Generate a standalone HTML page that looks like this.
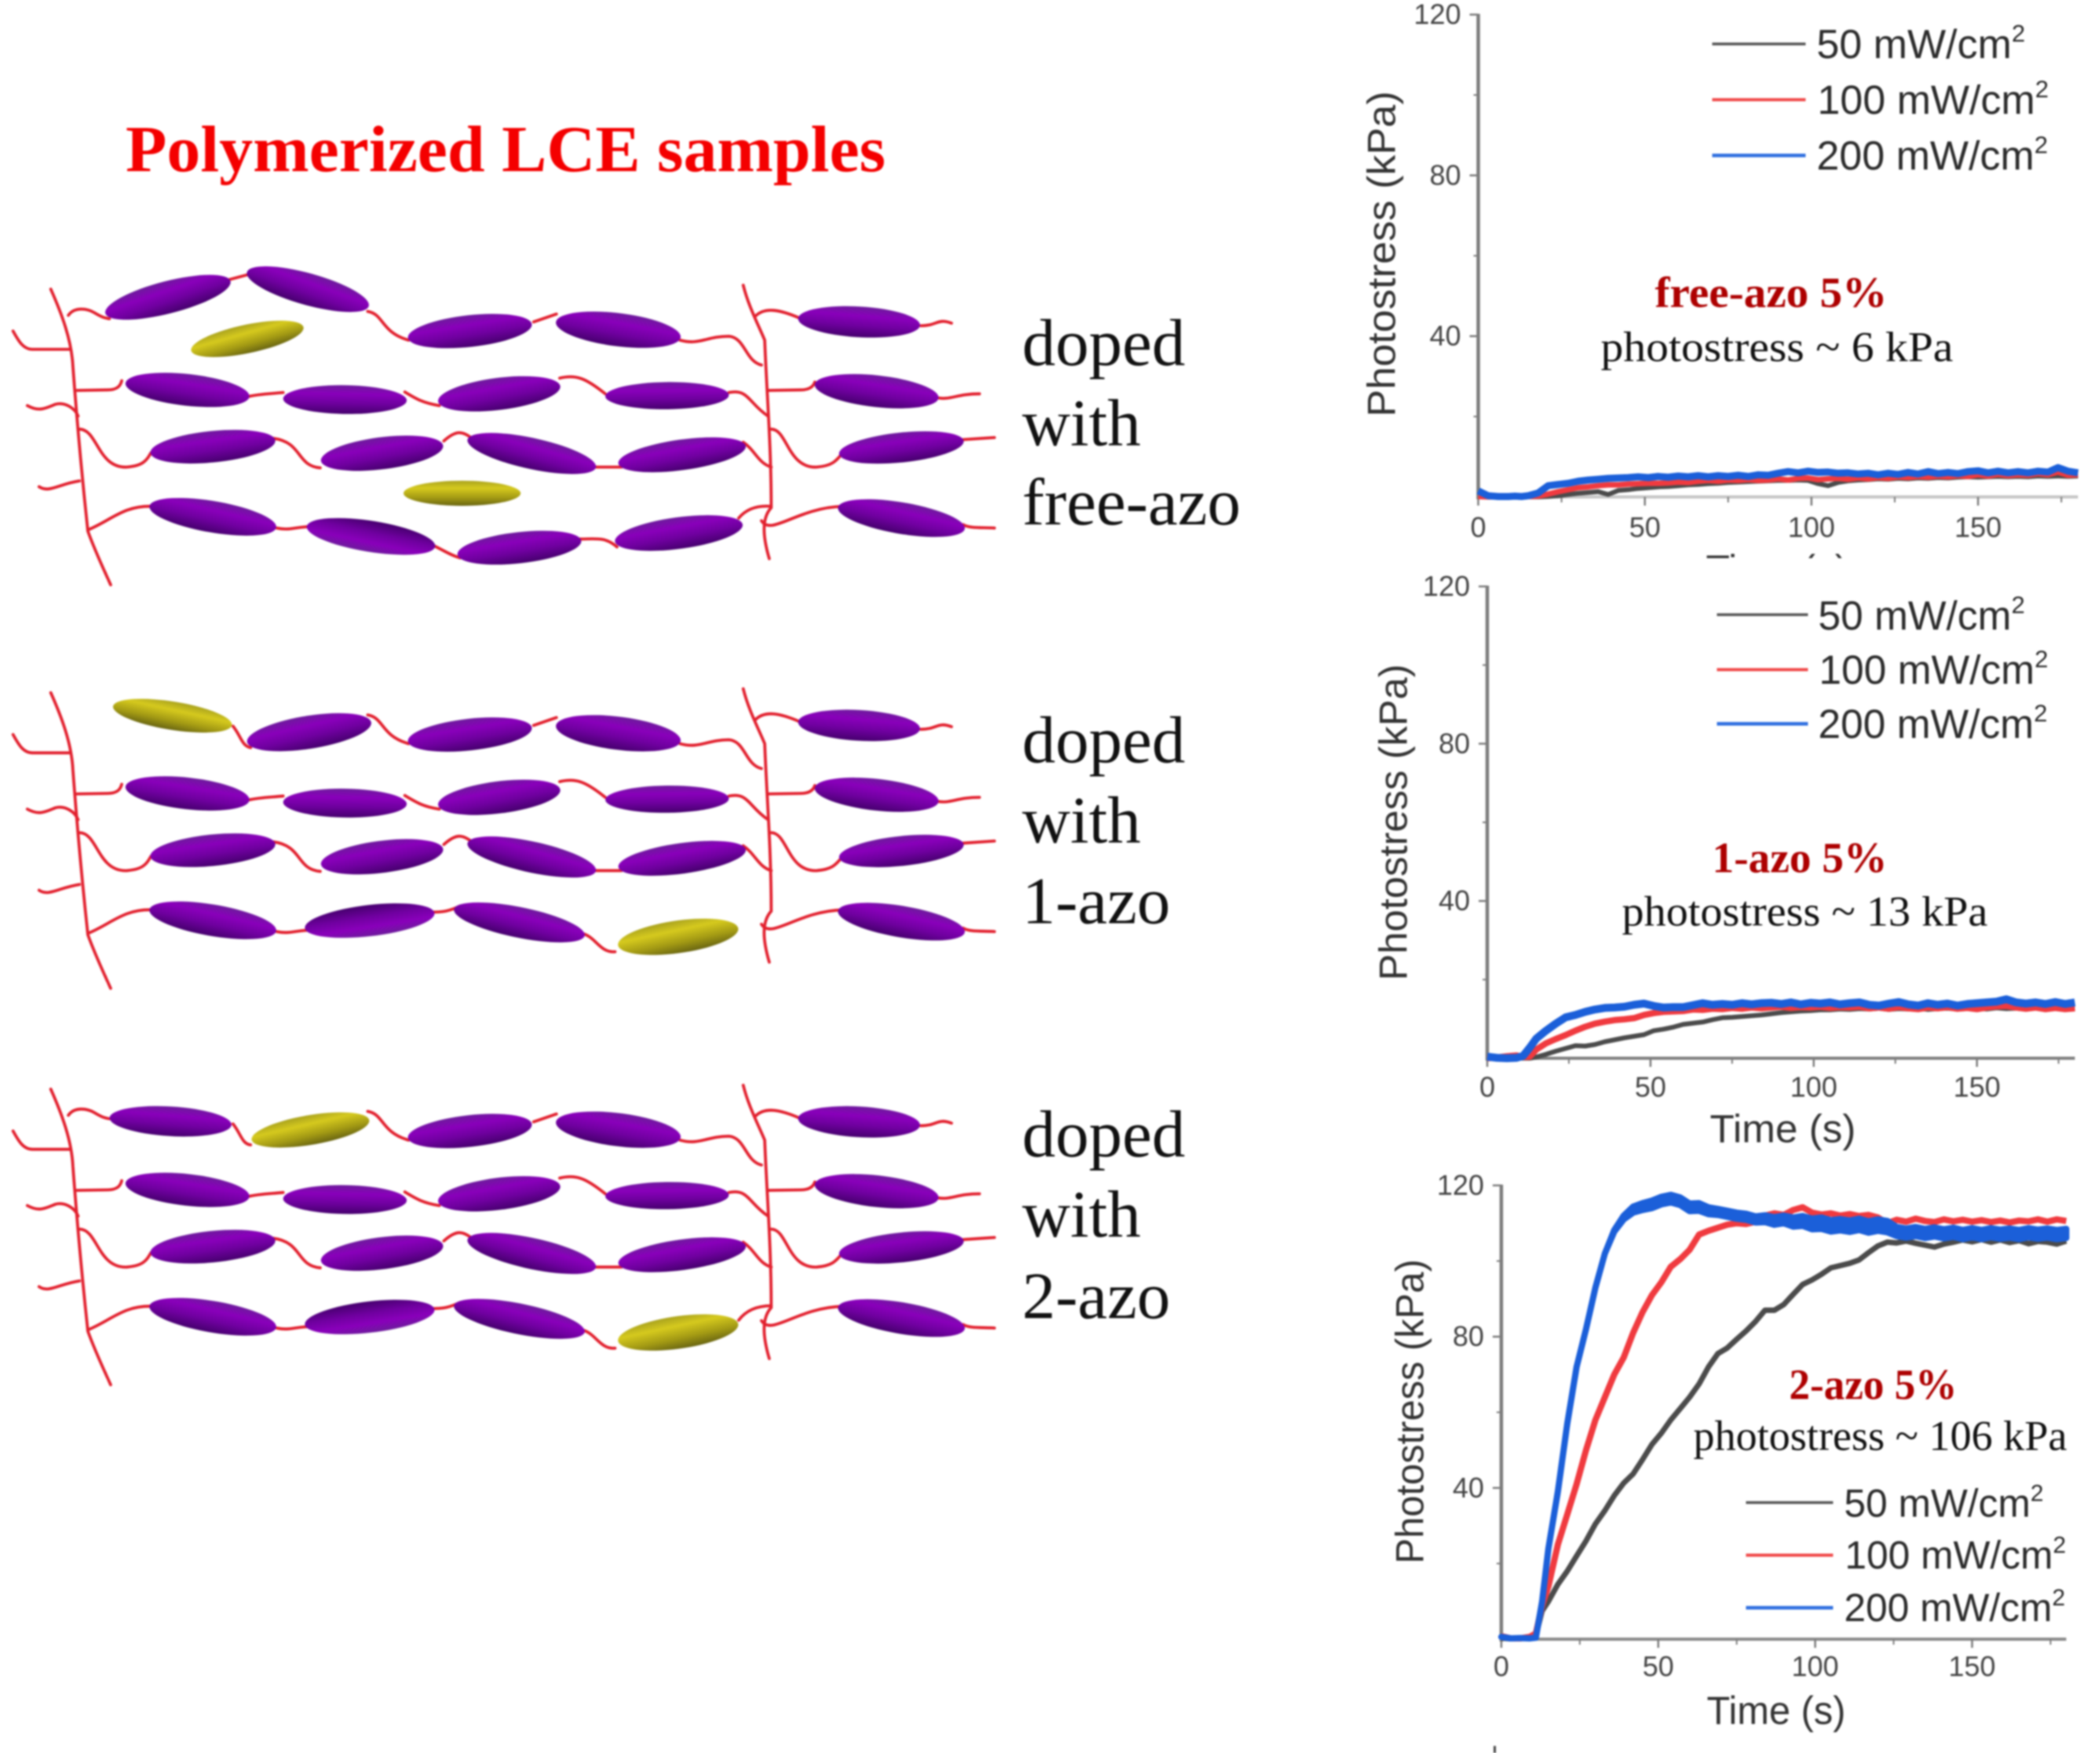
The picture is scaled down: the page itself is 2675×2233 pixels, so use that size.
<!DOCTYPE html>
<html lang="en">
<head>
<meta charset="utf-8">
<title>Polymerized LCE samples and photostress curves</title>
<style>
html,body{margin:0;padding:0;background:#fff;}
svg{display:block;}
.serif{font-family:"Liberation Serif",serif;}
.sans{font-family:"Liberation Sans",sans-serif;}
.chain path{fill:none;stroke:#e2202e;stroke-width:3.8px;vector-effect:non-scaling-stroke;stroke-linecap:round;}
.doped{font-family:"Liberation Serif",serif;font-size:85px;fill:#111;}
.legend-text{font-family:"Liberation Sans",sans-serif;fill:#2b2b2b;}
.sample-name{font-family:"Liberation Serif",serif;font-weight:bold;font-size:55px;fill:#ad0000;}
.sample-value{font-family:"Liberation Serif",serif;font-size:54px;fill:#111;}
.axis-title{font-family:"Liberation Sans",sans-serif;font-size:50px;fill:#333;}
</style>
</head>
<body>
<svg xmlns="http://www.w3.org/2000/svg" width="2675" height="2233" viewBox="0 0 2675 2233">
<defs>
<linearGradient id="purple" x1="0" y1="0" x2="0" y2="1">
<stop offset="0" stop-color="#6d1c9c"/><stop offset=".3" stop-color="#8a00bb"/><stop offset=".62" stop-color="#7000a0"/><stop offset="1" stop-color="#46006e"/>
</linearGradient>
<linearGradient id="purple-flipped" x1="0" y1="1" x2="0" y2="0">
<stop offset="0" stop-color="#6d1c9c"/><stop offset=".3" stop-color="#8a00bb"/><stop offset=".62" stop-color="#7000a0"/><stop offset="1" stop-color="#46006e"/>
</linearGradient>
<linearGradient id="yellow" x1="0" y1="0" x2="0" y2="1">
<stop offset="0" stop-color="#aaa31e"/><stop offset=".3" stop-color="#d6ca1e"/><stop offset=".68" stop-color="#a39a14"/><stop offset="1" stop-color="#6a6612"/>
</linearGradient>
<clipPath id="cut-time-label"><rect x="2100" y="660" width="320" height="51"/></clipPath>

<g id="shared-network">
<g class="chain">
<path d="M78,205 C95,300 110,400 112,500 C118,700 125,900 135,1130 C145,1200 160,1280 170,1335"/>
<path d="M1142,190 C1150,270 1165,340 1175,400 C1178,600 1185,800 1185,1040 C1170,1080 1172,1150 1182,1235"/>
<path d="M565,290 C590,300 585,370 628,400"/>
<path d="M820,330 L855,300"/>
<path d="M1045,400 C1075,420 1085,385 1120,385 C1145,390 1145,480 1170,495"/>
<path d="M20,365 C28,400 35,435 50,435 L108,435"/>
<path d="M1160,310 C1175,270 1200,285 1228,315"/>
<path d="M1415,345 C1440,345 1440,315 1462,335"/>
<path d="M118,592 L165,590 C180,590 185,575 187,555"/>
<path d="M42,650 C60,675 70,660 85,645 C100,635 115,660 120,690"/>
<path d="M382,615 C400,605 415,605 435,600"/>
<path d="M622,598 C640,625 650,640 675,650"/>
<path d="M860,545 C885,530 900,545 930,605"/>
<path d="M1120,600 C1150,585 1150,640 1180,690"/>
<path d="M1180,592 L1230,590 C1245,590 1250,575 1252,560"/>
<path d="M1440,620 C1460,630 1470,605 1505,605"/>
<path d="M122,740 C150,740 150,890 195,885 C220,880 225,860 232,830"/>
<path d="M60,960 C75,985 90,950 122,938"/>
<path d="M420,775 C465,790 455,880 492,888"/>
<path d="M682,785 C700,745 710,745 725,775"/>
<path d="M910,885 L955,885"/>
<path d="M1142,790 C1160,820 1165,870 1185,885"/>
<path d="M1185,740 C1210,740 1210,890 1255,885 C1280,880 1285,860 1295,830"/>
<path d="M1480,780 L1528,772"/>
<path d="M135,1125 C170,1090 190,1030 235,1035"/>
<path d="M425,1118 C445,1128 450,1115 478,1112"/>
<path d="M1170,1090 C1185,1150 1225,1040 1295,1035"/>
<path d="M1480,1105 C1490,1120 1510,1115 1528,1118"/>
</g>
<g fill="url(#purple)">
<ellipse cx="722" cy="365" rx="100" ry="58" transform="rotate(-22 722 365)"/>
<ellipse cx="950" cy="360" rx="102" ry="60" transform="rotate(25 950 360)"/>
<ellipse cx="1320" cy="330" rx="95" ry="58" transform="rotate(12 1320 330)"/>
<ellipse cx="288" cy="590" rx="100" ry="58" transform="rotate(22 288 590)"/>
<ellipse cx="530" cy="627" rx="95" ry="55" transform="rotate(3 530 627)"/>
<ellipse cx="767" cy="605" rx="100" ry="58" transform="rotate(-25 767 605)"/>
<ellipse cx="1025" cy="612" rx="95" ry="52" transform="rotate(-2 1025 612)"/>
<ellipse cx="1347" cy="595" rx="100" ry="58" transform="rotate(22 1347 595)"/>
<ellipse cx="327" cy="807" rx="100" ry="58" transform="rotate(-20 327 807)"/>
<ellipse cx="587" cy="832" rx="100" ry="58" transform="rotate(-25 587 832)"/>
<ellipse cx="817" cy="833" rx="115" ry="52" transform="rotate(35 817 833)"/>
<ellipse cx="1048" cy="838" rx="105" ry="55" transform="rotate(-25 1048 838)"/>
<ellipse cx="1385" cy="810" rx="100" ry="55" transform="rotate(-20 1385 810)"/>
<ellipse cx="327" cy="1075" rx="108" ry="55" transform="rotate(30 327 1075)"/>
<ellipse cx="1385" cy="1080" rx="108" ry="55" transform="rotate(30 1385 1080)"/>
</g>
</g>
</defs>

<rect width="2675" height="2233" fill="#fff"/>
<g style="filter:blur(1.1px)">

<text class="serif" x="160" y="218" font-size="84" font-weight="bold" fill="#f40000" textLength="968" lengthAdjust="spacingAndGlyphs">Polymerized LCE samples</text>

<!-- free-azo schematic -->
<g transform="translate(0,300) scale(.829,.3333)">
<use href="#shared-network"/>
<g class="chain">
<path d="M105,305 C115,270 135,280 145,295 C155,310 160,315 168,318"/>
<path d="M350,170 L380,150"/>
<path d="M662,1180 C680,1200 690,1220 707,1232"/>
<path d="M890,1160 C915,1160 930,1150 948,1190"/>
<path d="M1135,1080 C1145,1050 1160,1030 1185,1035"/>
</g>
<ellipse fill="url(#purple)" cx="258" cy="236" rx="118" ry="52" transform="rotate(-40 258 236)"/>
<ellipse fill="url(#purple)" cx="473" cy="205" rx="118" ry="50" transform="rotate(42 473 205)"/>
<ellipse fill="url(#yellow)" cx="380" cy="395" rx="100" ry="48" transform="rotate(-35 380 395)"/>
<ellipse fill="url(#yellow)" cx="710" cy="985" rx="90" ry="48"/>
<ellipse fill="url(#purple-flipped)" cx="570" cy="1150" rx="108" ry="55" transform="rotate(28 570 1150)"/>
<ellipse fill="url(#purple)" cx="798" cy="1193" rx="100" ry="57" transform="rotate(-22 798 1193)"/>
<ellipse fill="url(#purple)" cx="1043" cy="1137" rx="105" ry="57" transform="rotate(-25 1043 1137)"/>
</g>

<!-- 1-azo schematic -->
<g transform="translate(0,814) scale(.829,.3333)">
<use href="#shared-network"/>
<g class="chain">
<path d="M358,333 C370,370 372,410 385,415"/>
<path d="M662,1043 C680,1045 690,1040 707,1020"/>
<path d="M890,1123 C915,1130 920,1200 945,1195"/>
</g>
<ellipse fill="url(#yellow)" cx="265" cy="293" rx="100" ry="50" transform="rotate(28 265 293)"/>
<ellipse fill="url(#purple)" cx="475" cy="356" rx="105" ry="58" transform="rotate(-30 475 356)"/>
<ellipse fill="url(#purple-flipped)" cx="568" cy="1076" rx="105" ry="57" transform="rotate(-22 568 1076)"/>
<ellipse fill="url(#purple)" cx="798" cy="1083" rx="115" ry="52" transform="rotate(33 798 1083)"/>
<ellipse fill="url(#yellow)" cx="1042" cy="1138" rx="100" ry="58" transform="rotate(-28 1042 1138)"/>
</g>

<!-- 2-azo schematic -->
<g transform="translate(0,1319) scale(.829,.3333)">
<use href="#shared-network"/>
<g class="chain">
<path d="M105,305 C115,270 135,280 145,295 C155,310 160,315 168,318"/>
<path d="M358,338 C370,375 372,415 385,418"/>
<path d="M662,1043 C680,1045 690,1040 707,1020"/>
<path d="M890,1123 C915,1130 920,1200 945,1195"/>
<path d="M1135,1088 C1145,1055 1160,1033 1185,1033"/>
</g>
<ellipse fill="url(#purple)" cx="262" cy="328" rx="95" ry="56" transform="rotate(12 262 328)"/>
<ellipse fill="url(#yellow)" cx="477" cy="361" rx="100" ry="52" transform="rotate(-30 477 361)"/>
<ellipse fill="url(#purple-flipped)" cx="568" cy="1076" rx="105" ry="57" transform="rotate(-22 568 1076)"/>
<ellipse fill="url(#purple)" cx="798" cy="1083" rx="115" ry="52" transform="rotate(33 798 1083)"/>
<ellipse fill="url(#yellow)" cx="1042" cy="1135" rx="100" ry="58" transform="rotate(-28 1042 1135)"/>
</g>

<!-- schematic captions -->
<g>
<text class="doped" x="1302" y="465">doped</text>
<text class="doped" x="1302" y="567">with</text>
<text class="doped" x="1302" y="668">free-azo</text>
</g>
<g>
<text class="doped" x="1302" y="971">doped</text>
<text class="doped" x="1302" y="1073">with</text>
<text class="doped" x="1302" y="1176">1-azo</text>
</g>
<g>
<text class="doped" x="1302" y="1473">doped</text>
<text class="doped" x="1302" y="1575">with</text>
<text class="doped" x="1302" y="1679">2-azo</text>
</g>

<!-- chart 1 static text -->
<g id="chart-free-azo">
<text class="axis-title" transform="translate(1777,531) rotate(-90)" textLength="415" lengthAdjust="spacingAndGlyphs">Photostress (kPa)</text>
<text class="axis-title" x="2173" y="742" textLength="181" lengthAdjust="spacingAndGlyphs" clip-path="url(#cut-time-label)">Time (s)</text>
<g>
<line x1="2181" x2="2300" y1="56" y2="56" stroke="#555" stroke-width="3.5"/>
<line x1="2181" x2="2300" y1="127" y2="127" stroke="#f04a4a" stroke-width="4"/>
<line x1="2181" x2="2300" y1="198" y2="198" stroke="#2f6fdf" stroke-width="4.5"/>
<text class="legend-text" style="font-size:52px" x="2314" y="74">50 mW/cm<tspan dy="-21" style="font-size:31px">2</tspan></text>
<text class="legend-text" style="font-size:52px" x="2315" y="145">100 mW/cm<tspan dy="-21" style="font-size:31px">2</tspan></text>
<text class="legend-text" style="font-size:52px" x="2314" y="216">200 mW/cm<tspan dy="-21" style="font-size:31px">2</tspan></text>
</g>
<text class="sample-name" x="2108" y="391" textLength="296" lengthAdjust="spacingAndGlyphs">free-azo 5%</text>
<text class="sample-value" x="2039" y="460" textLength="449" lengthAdjust="spacingAndGlyphs">photostress ~ 6 kPa</text>
</g>

<!-- chart 2 static text -->
<g id="chart-1-azo">
<text class="axis-title" transform="translate(1792,1249) rotate(-90)" textLength="403" lengthAdjust="spacingAndGlyphs">Photostress (kPa)</text>
<text class="axis-title" x="2178" y="1455" textLength="186" lengthAdjust="spacingAndGlyphs">Time (s)</text>
<g>
<line x1="2187" x2="2303" y1="783" y2="783" stroke="#555" stroke-width="3.5"/>
<line x1="2187" x2="2303" y1="853" y2="853" stroke="#f04a4a" stroke-width="4"/>
<line x1="2187" x2="2303" y1="922" y2="922" stroke="#2f6fdf" stroke-width="4.5"/>
<text class="legend-text" style="font-size:51.5px" x="2316" y="802">50 mW/cm<tspan dy="-21" style="font-size:31px">2</tspan></text>
<text class="legend-text" style="font-size:51.5px" x="2317" y="871">100 mW/cm<tspan dy="-21" style="font-size:31px">2</tspan></text>
<text class="legend-text" style="font-size:51.5px" x="2316" y="940">200 mW/cm<tspan dy="-21" style="font-size:31px">2</tspan></text>
</g>
<text class="sample-name" x="2181" y="1111" textLength="223" lengthAdjust="spacingAndGlyphs">1-azo 5%</text>
<text class="sample-value" x="2066" y="1179" textLength="466" lengthAdjust="spacingAndGlyphs">photostress ~ 13 kPa</text>
</g>

<!-- chart 3 static text -->
<g id="chart-2-azo">
<text class="axis-title" transform="translate(1813,1992) rotate(-90)" textLength="388" lengthAdjust="spacingAndGlyphs">Photostress (kPa)</text>
<text class="axis-title" x="2174" y="2196" textLength="177" lengthAdjust="spacingAndGlyphs">Time (s)</text>
<g>
<line x1="2224" x2="2335" y1="1914" y2="1914" stroke="#555" stroke-width="3.5"/>
<line x1="2224" x2="2335" y1="1981" y2="1981" stroke="#f04a4a" stroke-width="4"/>
<line x1="2224" x2="2335" y1="2048" y2="2048" stroke="#2f6fdf" stroke-width="4.5"/>
<text class="legend-text" x="2349" y="1932" style="font-size:49.7px">50 mW/cm<tspan dy="-20" style="font-size:30px">2</tspan></text>
<text class="legend-text" x="2350" y="1998" style="font-size:49.7px">100 mW/cm<tspan dy="-20" style="font-size:30px">2</tspan></text>
<text class="legend-text" x="2349" y="2065" style="font-size:49.7px">200 mW/cm<tspan dy="-20" style="font-size:30px">2</tspan></text>
</g>
<text class="sample-name" x="2279" y="1782" textLength="214" lengthAdjust="spacingAndGlyphs">2-azo 5%</text>
<text class="sample-value" x="2157" y="1847" textLength="476" lengthAdjust="spacingAndGlyphs">photostress ~ 106 kPa</text>
</g>
<line x1="1904" x2="1904" y1="2224" y2="2233" stroke="#444" stroke-width="3"/>
</g>
</svg>

<script>
// Shared axis values
const timeTickValues = [0, 50, 100, 150];
const timeMinorValues = [25, 75, 125, 175];
const stressTickValues = [40, 80, 120];
const stressMinorValues = [20, 60, 100];

// Sample times (s)
const timeValues = [
  0,3,6,9,11,13,15,18,21,24,
  27,30,33,36,39,42,45,48,51,54,
  57,60,63,66,69,72,75,78,81,84,
  87,90,93,96,99,102,105,108,111,114,
  117,120,123,126,129,132,135,138,141,144,
  147,150,153,156,159,162,165,168,171,174,
  177,180
];

// free-azo photostress (kPa)
const freeAzo50 = [
  0,0,0,0,0,0,0,0,0.1,0.3,
  0.6,0.9,1.1,1.3,0.6,1.6,1.8,2.1,2.3,2.5,
  2.6,2.8,3,3.1,3.3,3.4,3.6,3.7,3.8,3.9,
  4,4.1,4.1,4.2,4.1,3.3,2.8,3.6,4,4.2,
  4.3,4.5,4.4,4.6,4.5,4.7,4.6,4.8,4.7,4.9,
  5,4.9,5,5.1,5,5.1,5,5.2,5.1,5.2,
  5.1,5.2
];
const freeAzo100 = [
  0.1,0,0,0,0.1,0,0.1,0.2,0.7,1.3,
  1.8,2.3,2.5,2.8,3,3,3.2,3.3,3.4,3.4,
  3.5,3.7,3.6,3.9,4.1,3.9,4.2,4.1,4.3,4.1,
  4.2,4.5,4.2,4.6,4.7,4.3,4.5,4.6,4.4,4.7,
  4.5,4.8,4.6,5,4.8,5.1,4.9,5.2,5,5.3,
  5.1,5.5,5.2,5.6,5.3,5.5,5.4,5.8,5.5,6.2,
  5.4,5.5
];
const freeAzo200 = [
  1.5,0.3,0.1,0.1,0.2,0.1,0.3,1,2.8,3.1,
  3.4,3.9,4.2,4.4,4.6,4.7,4.8,5,4.8,5.1,
  4.9,5.2,5,5.3,5,5.3,5.1,5.4,5.1,5.5,
  5.4,5.9,6.3,6,6.4,6.1,6.2,5.9,6,5.7,
  5.9,5.5,5.9,5.6,6.1,5.7,6.3,5.8,6.1,5.8,
  6.3,6.5,6,6.4,6,6.3,6,6.4,6.2,7.3,
  6.4,6
];

// 1-azo photostress (kPa)
const oneAzo50 = [
  0,0,0,0,0,0,0.3,1,1.8,2.5,
  3.2,3.1,3.5,4.2,4.7,5.2,5.6,6,7,7.4,
  7.9,8.6,8.9,9.2,9.8,10.3,10.4,10.6,10.8,11,
  11.3,11.6,11.8,12,12.1,12.3,12.3,12.5,12.4,12.6,
  12.5,12.7,12.4,12.6,12.5,12.7,12.4,12.6,12.7,12.5,
  12.6,12.7,12.5,12.8,12.6,12.7,12.5,12.8,12.6,12.7,
  12.5,12.6
];
const oneAzo100 = [
  0,0.2,0.5,0.7,0.3,0.4,2.2,3.8,4.9,5.9,
  7,8,8.8,9.3,9.7,9.9,10.2,11,11.5,11.8,
  11.9,12,12.4,12.3,12.6,12.5,12.8,12.6,12.9,12.7,
  12.9,13.1,12.8,13,12.9,13.1,12.8,13,12.9,13.1,
  12.7,12.9,12.6,13,12.7,12.5,12.9,12.7,13,12.6,
  12.8,12.5,12.9,13.2,13.3,12.9,12.6,12.9,12.5,12.8,
  12.5,12.7
];
const oneAzo200 = [
  0.4,0.1,0,0.1,0.6,2.7,5,7,8.8,10.4,
  11,11.8,12.4,12.8,12.9,13.1,13.6,13.9,13.3,12.9,
  13,13,13.5,14,13.6,13.8,13.6,14,13.7,14,
  14.1,13.8,14.2,13.7,14.1,13.9,14.2,13.7,14,14.2,
  13.6,13.4,13.9,14.3,13.7,13.4,14,13.6,13.9,13.4,
  13.8,14,14.2,14.4,15,14.2,13.9,14.2,13.8,14.3,
  13.8,14.2
];

// 2-azo photostress (kPa)
const twoAzo50 = [
  0.3,0.1,0.2,0.2,1,7.5,10,14.5,18,22,
  26,30.5,34,38,41.3,43.7,47.5,51.5,54.5,58,
  61,64,67.5,72,75.5,77,79.3,81.5,84,87,
  87,88.5,91.2,93.8,95,96.5,98.2,98.8,99.4,100.3,
  102.2,104,105,104.8,105.3,104.7,104.2,103.7,104.5,105,
  105.6,105.1,105.7,105,105.6,104.9,105.4,104.6,105.2,105,
  104.5,105.3
];
const twoAzo100 = [
  0.8,0.2,0.2,0.6,1.5,9,14,25,33,41,
  50,58,64,70,74.5,81,86.5,91,94.4,98.5,
  100.5,103,107,108,108.8,109.6,110,109.8,110.4,112,
  112.6,112.2,113.5,114.2,112.8,112.3,112.6,112,112.4,111.9,
  112.2,111.5,110,110.9,110.4,111.2,110.6,110.3,111,110.5,
  110.9,110.4,110.8,110.3,110.7,110.2,110.7,110.5,111,110.4,
  111,110.6
];
const twoAzo200 = [
  0.6,0.2,0.3,0.2,0.4,10,24,39,57,72,
  82,93,102,108,111.5,113.6,114.4,115,116,116.5,
  115.8,114.2,114.3,113.3,113,112.5,112,111.7,111,111.2,
  110.6,111,110.3,110.6,109.8,110,109.3,109.6,109.2,109.7,
  109,109.5,109.1,107.8,107.4,107.8,107.3,107.7,107.2,107.6,
  107,107.5,107,107.5,107.1,107.4,107,107.5,107.1,107.4,
  107,107.3
];
// Half-width of the noise band around the 2-azo 200 mW/cm2 trace (kPa)
const twoAzo200Noise = [
  0,0,0,0,0,0,0,0,0,0,
  0,0,0,0.2,0.5,0.8,0.9,1,1,1,
  1,1,1,0.9,0.8,0.8,0.8,0.8,0.8,0.9,
  1,1,1.2,1.3,1.4,1.5,1.5,1.5,1.5,1.5,
  1.5,1.5,1.5,1.2,1.2,1.2,1.2,1.2,1.2,1.2,
  1.2,1.2,1.2,1.2,1.2,1.2,1.2,1.2,1.2,1.2,
  1.2,1.2
];

const SVG_NS = 'http://www.w3.org/2000/svg';

function make(parent, tag, attrs, text) {
  const el = document.createElementNS(SVG_NS, tag);
  for (const k in attrs) el.setAttribute(k, attrs[k]);
  if (text !== undefined) el.textContent = text;
  parent.appendChild(el);
  return el;
}

function drawChart(groupId, frame, black, red, blue, blueNoise) {
  const root = document.getElementById(groupId);
  const x = t => frame.x0 + t * (frame.x180 - frame.x0) / 180;
  const y = v => frame.y0 - v * (frame.y0 - frame.y120) / 120;
  const axisColor = '#7c7c7c';

  const axes = make(root, 'g', {});
  
  

  const xAxis = make(axes, 'line', {x1: x(0), x2: x(180), y1: y(0), y2: y(0), stroke: frame.xAxisColor, 'stroke-width': 4});
  
  

  const yAxis = make(axes, 'line', {x1: x(0), x2: x(0), y1: y(120) - 1, y2: y(0) + 3, stroke: axisColor, 'stroke-width': 4.5});
  
  

  timeTickValues.forEach(t => {
    const tick = make(axes, 'line', {x1: x(t), x2: x(t), y1: y(0), y2: y(0) + 11, stroke: axisColor, 'stroke-width': 2.5});
    
    
    const label = make(axes, 'text', {x: x(t), y: frame.xLabelY, 'text-anchor': 'middle', class: 'sans', 'font-size': frame.tickFont, fill: '#444'}, String(t));
    
    
  });
  timeMinorValues.forEach(t => {
    const tick = make(axes, 'line', {x1: x(t), x2: x(t), y1: y(0), y2: y(0) + 7, stroke: axisColor, 'stroke-width': 2});
    
    
  });
  stressTickValues.forEach(v => {
    const tick = make(axes, 'line', {x1: x(0) - 11, x2: x(0), y1: y(v), y2: y(v), stroke: axisColor, 'stroke-width': 2.5});
    
    
    const label = make(axes, 'text', {x: x(0) - 22, y: y(v) + 12, 'text-anchor': 'end', class: 'sans', 'font-size': frame.tickFont, fill: '#444'}, String(v));
    
    
  });
  stressMinorValues.forEach(v => {
    const tick = make(axes, 'line', {x1: x(0) - 6, x2: x(0), y1: y(v), y2: y(v), stroke: axisColor, 'stroke-width': 2});
    
    
  });

  const toPoints = values => values.map((v, i) => x(timeValues[i]).toFixed(1) + ',' + y(v).toFixed(1)).join(' ');

  const lineBlack = make(root, 'polyline', {points: toPoints(black), fill: 'none', stroke: '#4b4b4b', 'stroke-width': frame.blackWidth, 'stroke-linejoin': 'round'});
  
  

  const lineRed = make(root, 'polyline', {points: toPoints(red), fill: 'none', stroke: '#f03a3f', 'stroke-width': frame.redWidth, 'stroke-linejoin': 'round'});
  
  

  if (blueNoise) {
    const upper = blue.map((v, i) => x(timeValues[i]).toFixed(1) + ',' + y(v + blueNoise[i]).toFixed(1));
    const lower = blue.map((v, i) => x(timeValues[i]).toFixed(1) + ',' + y(v - blueNoise[i]).toFixed(1)).reverse();
    const band = make(root, 'polygon', {points: upper.concat(lower).join(' '), fill: '#1b5fd9', stroke: '#1b5fd9', 'stroke-width': frame.blueWidth, 'stroke-linejoin': 'round'});
    
    
  } else {
    const lineBlue = make(root, 'polyline', {points: toPoints(blue), fill: 'none', stroke: '#1b5fd9', 'stroke-width': frame.blueWidth, 'stroke-linejoin': 'round'});
    
    
  }
}

drawChart('chart-free-azo', {x0: 1883, x180: 2647, y0: 633, y120: 18.6, xLabelY: 684, tickFont: 36, xAxisColor: '#c6c6c6', blackWidth: 6, redWidth: 7, blueWidth: 9}, freeAzo50, freeAzo100, freeAzo200);
drawChart('chart-1-azo', {x0: 1894.5, x180: 2643, y0: 1348, y120: 747, xLabelY: 1397, tickFont: 36, xAxisColor: '#808080', blackWidth: 6, redWidth: 8, blueWidth: 10}, oneAzo50, oneAzo100, oneAzo200);
drawChart('chart-2-azo', {x0: 1912.4, x180: 2632, y0: 2088, y120: 1510, xLabelY: 2135, tickFont: 36, xAxisColor: '#8a8a8a', blackWidth: 7, redWidth: 8, blueWidth: 8}, twoAzo50, twoAzo100, twoAzo200, twoAzo200Noise);
</script>
</body>
</html>
